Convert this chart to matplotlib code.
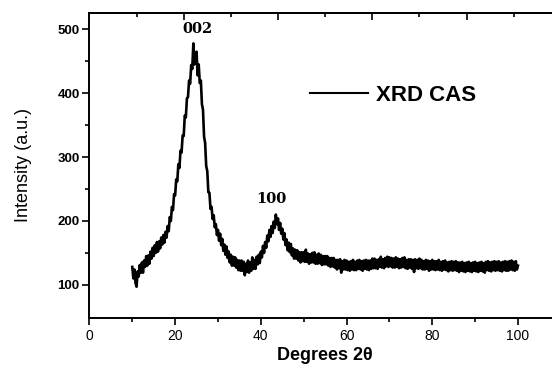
#!/usr/bin/env python3
"""
XRD pattern of CAS sample: intensity vs 2-theta
"""

import numpy as np
import matplotlib
matplotlib.use('Agg')
import matplotlib.pyplot as plt
from matplotlib.ticker import MultipleLocator, FixedLocator

plt.rcParams['font.family'] = ['Liberation Sans', 'DejaVu Sans']

# 2-theta from 10 to 100 deg in 0.25 deg steps, intensities
start_deg = 10.0
step_deg = 0.25
intensity = [
    # 10 - 14.75
    128, 110, 124, 103, 97, 121, 113, 131, 119, 135, 119, 138, 128, 145, 130, 146, 133, 152, 141, 158,
    # 15 - 19.75
    145, 162, 150, 167, 152, 168, 157, 174, 163, 178, 166, 183, 174, 192, 184, 206, 200, 222, 217, 242,
    # 20 - 24.75
    240, 265, 262, 289, 283, 310, 307, 334, 333, 365, 362, 392, 394, 420, 415, 444, 438, 478, 445, 462,
    # 25 - 29.75
    465, 428, 445, 416, 420, 383, 374, 332, 322, 286, 278, 245, 244, 219, 222, 203, 209, 190, 195, 178,
    # 30 - 34.75
    186, 169, 180, 162, 172, 153, 163, 147, 160, 142, 152, 135, 147, 130, 144, 130, 143, 127, 139, 123,
    # 35 - 39.75
    138, 122, 138, 122, 136, 115, 133, 120, 138, 119, 135, 122, 143, 125, 139, 125, 144, 132, 147, 134,
    # 40 - 44.75
    152, 143, 161, 150, 167, 158, 177, 168, 186, 175, 192, 181, 199, 189, 210, 195, 204, 186, 197, 180,
    # 45 - 49.75
    188, 171, 181, 162, 171, 154, 166, 151, 164, 146, 157, 141, 155, 141, 154, 138, 151, 135, 151, 137,
    # 50 - 54.75
    151, 136, 155, 136, 149, 133, 148, 135, 150, 135, 151, 133, 147, 133, 149, 134, 147, 131, 145, 132,
    # 55 - 59.75
    145, 132, 145, 130, 142, 128, 142, 129, 142, 127, 139, 124, 139, 126, 140, 119, 137, 124, 139, 124,
    # 60 - 64.75
    138, 123, 136, 122, 137, 124, 139, 123, 136, 123, 138, 125, 139, 124, 137, 122, 138, 125, 139, 124,
    # 65 - 69.75
    138, 123, 138, 125, 141, 126, 141, 126, 139, 125, 140, 128, 144, 127, 140, 126, 142, 129, 144, 128,
    # 70 - 74.75
    143, 129, 142, 127, 141, 127, 143, 128, 141, 126, 140, 127, 142, 128, 143, 126, 139, 125, 140, 127,
    # 75 - 79.75
    140, 125, 139, 120, 140, 126, 139, 125, 141, 126, 139, 124, 137, 124, 139, 125, 138, 122, 137, 124,
    # 80 - 84.75
    139, 124, 137, 123, 137, 124, 139, 123, 136, 122, 137, 124, 138, 123, 135, 121, 136, 123, 137, 122,
    # 85 - 89.75
    136, 123, 137, 122, 135, 120, 135, 122, 136, 121, 134, 120, 135, 122, 136, 121, 134, 120, 135, 122,
    # 90 - 94.75
    136, 121, 134, 120, 135, 122, 136, 121, 134, 119, 136, 123, 137, 122, 135, 121, 136, 123, 137, 122,
    # 95 - 99.75
    136, 123, 137, 122, 135, 121, 136, 123, 137, 122, 136, 122, 137, 124, 138, 123, 136, 122, 137, 124,
    # 100
    130,
]
two_theta = start_deg + step_deg * np.arange(len(intensity))

peak_labels = ['002', '100']
peak_pos = [25.2, 42.5]
peak_label_y = [494, 228]

fig = plt.figure(figsize=(5.52, 3.70), dpi=100)
ax = fig.add_axes([0.162, 0.1405, 0.854, 0.825])

ax.plot(two_theta, intensity, color='black', linewidth=1.9, label='XRD CAS')

for txt, x, y in zip(peak_labels, peak_pos, peak_label_y):
    ax.text(x, y, txt, ha='center', va='baseline', fontsize=10.5,
            fontweight='bold', family='DejaVu Serif')

ax.set_xlim(0, 110)
ax.set_ylim(48, 526)

ax.xaxis.set_major_locator(MultipleLocator(20))
ax.xaxis.set_minor_locator(MultipleLocator(10))
ax.yaxis.set_major_locator(MultipleLocator(100))
ax.yaxis.set_minor_locator(FixedLocator([150, 250, 350, 450]))

ax.tick_params(axis='both', which='major', direction='out', length=5, width=1.2)
ax.tick_params(axis='both', which='minor', direction='out', length=3, width=1.2)
ax.tick_params(axis='x', labelsize=10, pad=3)
ax.tick_params(axis='y', labelsize=9.5, pad=2)
for lbl in ax.get_yticklabels():
    lbl.set_fontweight('bold')

for side in ['left', 'bottom', 'top']:
    ax.spines[side].set_linewidth(1.4)

# top axis carries its own inward ticks (not aligned with the bottom ones)
top = ax.secondary_xaxis('top')
top.set_xticks([22, 44, 66, 88])
top.set_xticks([11, 33, 55, 77, 99], minor=True)
top.set_xticklabels([])
top.tick_params(which='major', direction='in', length=5, width=1.2)
top.tick_params(which='minor', direction='in', length=3, width=1.2)
top.spines['top'].set_linewidth(1.4)

ax.set_xlabel('Degrees 2θ', fontsize=13, fontweight='bold', labelpad=3)
ax.set_ylabel('Intensity (a.u.)', fontsize=13, labelpad=18)

leg = ax.legend(loc='center left', bbox_to_anchor=(0.468, 0.73), frameon=False,
                borderpad=0, borderaxespad=0, handlelength=2.6, handletextpad=0.35,
                prop={'size': 16, 'weight': 'bold'})
for line in leg.get_lines():
    line.set_linewidth(1.5)

plt.savefig('out.png', dpi=100)
